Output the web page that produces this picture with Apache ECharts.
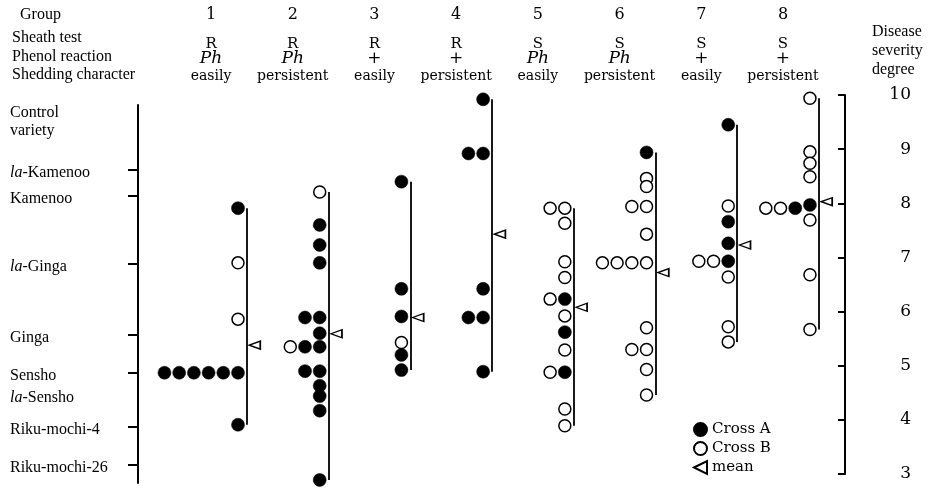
<!DOCTYPE html>
<html><head><meta charset="utf-8">
<script src="https://cdn.jsdelivr.net/npm/echarts@6/dist/echarts.min.js"></script>
<style>html,body{margin:0;padding:0;background:#fff}#c{width:929px;height:489px}</style>
</head><body><div id="c"></div>
<script>
// ---------------- data ----------------
const groups = [1, 2, 3, 4, 5, 6, 7, 8];
const sheathTest = ['R', 'R', 'R', 'R', 'S', 'S', 'S', 'S'];
const phenolReaction = ['Ph', 'Ph', '+', '+', 'Ph', 'Ph', '+', '+'];
const shedding = ['easily', 'persistent', 'easily', 'persistent', 'easily', 'persistent', 'easily', 'persistent'];
// [group, disease severity, position in a row of tied plants (0 = next to the line)]
const crossA = [
  [1, 7.91, 0], [1, 4.87, 0], [1, 4.87, 1], [1, 4.87, 2], [1, 4.87, 3], [1, 4.87, 4], [1, 4.87, 5], [1, 3.91, 0],
  [2, 7.60, 0], [2, 7.23, 0], [2, 6.90, 0], [2, 5.89, 0], [2, 5.89, 1], [2, 5.60, 0], [2, 5.35, 0], [2, 5.35, 1],
  [2, 4.90, 0], [2, 4.90, 1], [2, 4.63, 0], [2, 4.44, 0], [2, 4.17, 0], [2, 2.89, 0],
  [3, 8.40, 0], [3, 6.42, 0], [3, 5.91, 0], [3, 5.20, 0], [3, 4.92, 0],
  [4, 9.92, 0], [4, 8.92, 0], [4, 8.92, 1], [4, 6.42, 0], [4, 5.89, 0], [4, 5.89, 1], [4, 4.89, 0],
  [5, 6.23, 0], [5, 5.62, 0], [5, 4.88, 0],
  [6, 8.94, 0],
  [7, 9.45, 0], [7, 7.66, 0], [7, 7.26, 0], [7, 6.93, 0],
  [8, 7.97, 0], [8, 7.91, 1]
];
const crossB = [
  [1, 6.90, 0], [1, 5.86, 0],
  [2, 8.21, 0], [2, 5.35, 2],
  [3, 5.43, 0],
  [5, 7.91, 0], [5, 7.91, 1], [5, 7.63, 0], [5, 6.92, 0], [5, 6.63, 0], [5, 6.23, 1], [5, 5.92, 0], [5, 5.29, 0],
  [5, 4.88, 1], [5, 4.20, 0], [5, 3.89, 0],
  [6, 8.46, 0], [6, 8.31, 0], [6, 7.94, 0], [6, 7.94, 1], [6, 7.43, 0], [6, 6.90, 0], [6, 6.90, 1], [6, 6.90, 2],
  [6, 6.90, 3], [6, 5.70, 0], [6, 5.30, 0], [6, 5.30, 1], [6, 4.93, 0], [6, 4.46, 0],
  [7, 7.95, 0], [7, 6.93, 1], [7, 6.93, 2], [7, 6.64, 0], [7, 5.72, 0], [7, 5.44, 0],
  [8, 9.94, 0], [8, 8.95, 0], [8, 8.74, 0], [8, 8.49, 0], [8, 7.91, 2], [8, 7.91, 3], [8, 7.69, 0], [8, 6.68, 0], [8, 5.67, 0]
];
const means = [5.38, 5.59, 5.89, 7.43, 6.08, 6.72, 7.23, 8.03];
const controlVarieties = ['la-Kamenoo', 'Kamenoo', 'la-Ginga', 'Ginga', 'Sensho', 'la-Sensho', 'Riku-mochi-4', 'Riku-mochi-26'];
const controlSeverity = [8.62, 8.14, 6.88, 5.57, 4.87, 4.46, 3.87, 3.17];
const controlHasTick = [true, true, true, true, true, false, true, true];
const severityMin = 3, severityMax = 10;

// ---------------- layout constants ----------------
const COL_STEP = 0.18, LINE_OFF = 0.11, MEAN_OFF = 0.205, HEAD_OFF = -0.33;
const SERIF = 'Liberation Serif';
const SERIF2 = 'DejaVu Serif';
const INK = '#000';

const ptsA = crossA.map(d => [d[0] - d[2] * COL_STEP, d[1]]);
const ptsB = crossB.map(d => [d[0] - d[2] * COL_STEP, d[1]]);
const ranges = groups.map(g => {
  const v = crossA.concat(crossB).filter(d => d[0] === g).map(d => d[1]);
  return { coords: [[g + LINE_OFF, Math.max(...v)], [g + LINE_OFF, Math.min(...v)]] };
});
const meanPts = means.map((m, i) => [groups[i] + MEAN_OFF, m]);

function groupIndex(v, off) { return Math.round(v - off) - 1; }
function nearestIdx(arr, v) {
  let b = 0; arr.forEach((a, i) => { if (Math.abs(a - v) < Math.abs(arr[b] - v)) b = i; }); return b;
}

const chart = echarts.init(document.getElementById('c'));
const xRange = { min: -0.224, max: 8.429 };
chart.setOption({
  backgroundColor: '#fff',
  animation: false,
  grid: [
    { left: 138, right: 84, top: 95, bottom: 15 },
    { left: 138, width: 1, top: 105, bottom: 6 }
  ],
  xAxis: [
    { gridIndex: 0, type: 'value', min: xRange.min, max: xRange.max, show: false, axisLine: { onZero: false } },
    {
      gridIndex: 0, type: 'value', position: 'top', min: xRange.min, max: xRange.max,
      axisLine: { show: false, onZero: false }, axisTick: { show: false }, splitLine: { show: false },
      axisLabel: {
        customValues: groups.map(g => g + HEAD_OFF), margin: 10, color: INK,
        formatter: v => {
          const i = groupIndex(v, HEAD_OFF);
          const ph = phenolReaction[i] === 'Ph' ? 'p' : 'q';
          return '{r|' + sheathTest[i] + '}\n{' + ph + '|' + phenolReaction[i] + '}\n{e|' + shedding[i] + '}';
        },
        rich: {
          r: { fontFamily: SERIF2, fontSize: 15, lineHeight: 14, color: INK },
          p: { fontFamily: SERIF2, fontSize: 17, fontStyle: 'italic', lineHeight: 16, color: INK },
          q: { fontFamily: SERIF2, fontSize: 17, lineHeight: 16, color: INK },
          e: { fontFamily: SERIF2, fontSize: 14, lineHeight: 18, color: INK }
        }
      }
    },
    {
      gridIndex: 0, type: 'value', position: 'top', min: xRange.min, max: xRange.max,
      axisLine: { show: false, onZero: false }, axisTick: { show: false }, splitLine: { show: false },
      axisLabel: {
        customValues: groups.map(g => g + HEAD_OFF), margin: 71,
        fontFamily: SERIF2, fontSize: 16, lineHeight: 18, color: INK,
        formatter: v => String(groups[groupIndex(v, HEAD_OFF)])
      }
    },
    { gridIndex: 1, type: 'value', min: 0, max: 1, show: false, axisLine: { onZero: false } }
  ],
  yAxis: [
    {
      gridIndex: 0, type: 'value', position: 'right', min: severityMin, max: severityMax, interval: 1,
      axisLine: { show: true, onZero: false, lineStyle: { color: INK, width: 2 } },
      axisTick: { show: true, inside: true, length: 7, lineStyle: { color: INK, width: 2 } },
      splitLine: { show: false },
      axisLabel: { margin: 66, align: 'right', fontFamily: SERIF2, fontSize: 17, color: INK }
    },
    {
      gridIndex: 1, type: 'value', position: 'left', min: 2.834, max: 9.815,
      axisLine: { show: true, onZero: false, lineStyle: { color: INK, width: 2 } },
      axisTick: { show: true, length: 10, lineStyle: { color: INK, width: 2 },
        customValues: controlSeverity.filter((v, i) => controlHasTick[i]) },
      splitLine: { show: false },
      axisLabel: {
        customValues: controlSeverity, margin: 128, align: 'left', padding: [6, 0, 0, 0],
        fontFamily: SERIF, fontSize: 16, color: INK,
        formatter: v => {
          const n = controlVarieties[nearestIdx(controlSeverity, v)];
          return n.startsWith('la-') ? '{i|la}-' + n.slice(3) : n;
        },
        rich: { i: { fontFamily: SERIF, fontSize: 16, fontStyle: 'italic', color: INK } }
      }
    }
  ],
  legend: {
    orient: 'vertical', left: 688, top: 417, itemGap: 4, itemWidth: 13, itemHeight: 13,
    textStyle: { fontFamily: SERIF2, fontSize: 15, color: INK, lineHeight: 13 },
    data: ['Cross A', 'Cross B', 'mean']
  },
  graphic: [
    { type: 'text', x: 20, y: 15, style: { text: 'Group', font: '16px "Liberation Serif"', fill: INK, verticalAlign: 'middle' } },
    { type: 'text', x: 12, y: 38, style: { text: 'Sheath test', font: '16px "Liberation Serif"', fill: INK, verticalAlign: 'middle' } },
    { type: 'text', x: 12, y: 57, style: { text: 'Phenol reaction', font: '16px "Liberation Serif"', fill: INK, verticalAlign: 'middle' } },
    { type: 'text', x: 12, y: 75, style: { text: 'Shedding character', font: '16px "Liberation Serif"', fill: INK, verticalAlign: 'middle' } },
    { type: 'text', x: 10, y: 122, style: { text: 'Control\nvariety', font: '16px "Liberation Serif"', lineHeight: 18, fill: INK, verticalAlign: 'middle' } },
    { type: 'text', x: 872, y: 51, style: { text: 'Disease\nseverity\ndegree', font: '16px "Liberation Serif"', lineHeight: 19, fill: INK, verticalAlign: 'middle' } }
  ],
  series: [
    {
      name: 'range', type: 'lines', coordinateSystem: 'cartesian2d', xAxisIndex: 0, yAxisIndex: 0,
      polyline: false, silent: true, clip: false, z: 1,
      lineStyle: { color: INK, width: 1.8, opacity: 1 },
      data: ranges
    },
    {
      name: 'Cross A', type: 'scatter', xAxisIndex: 0, yAxisIndex: 0, clip: false, z: 3,
      symbol: 'circle', symbolSize: 13, itemStyle: { color: INK, borderColor: INK, borderWidth: 0.5, opacity: 1 },
      data: ptsA
    },
    {
      name: 'Cross B', type: 'scatter', xAxisIndex: 0, yAxisIndex: 0, clip: false, z: 4,
      symbol: 'circle', symbolSize: 12, itemStyle: { color: '#fff', borderColor: INK, borderWidth: 1.5, opacity: 1 },
      data: ptsB
    },
    {
      name: 'mean', type: 'scatter', xAxisIndex: 0, yAxisIndex: 0, clip: false, z: 4,
      symbol: 'path://M0,5L10,0L10,10Z', symbolSize: [11, 8], symbolKeepAspect: false,
      itemStyle: { color: '#fff', borderColor: INK, borderWidth: 1.5, opacity: 1 },
      data: meanPts
    }
  ]
});
</script></body></html>
